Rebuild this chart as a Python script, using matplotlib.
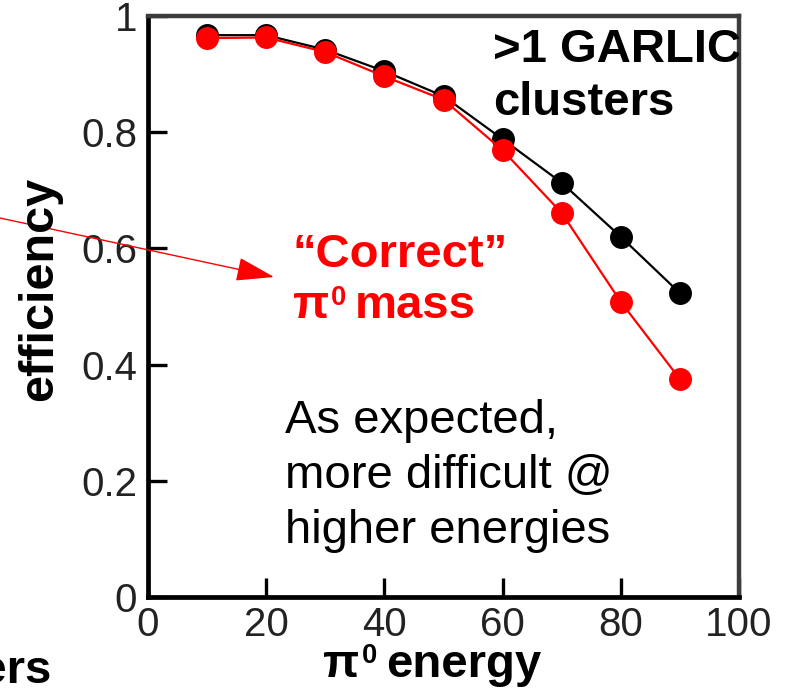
import matplotlib
matplotlib.use("Agg")
import matplotlib.pyplot as plt
from matplotlib.patches import FancyArrowPatch

# =========================
# DATA
# =========================

energy = [10, 20, 30, 40, 50, 60, 70, 80, 90]
eff_clusters = [0.967, 0.967, 0.942, 0.905, 0.862, 0.788, 0.713, 0.620, 0.523]
eff_mass = [0.962, 0.963, 0.938, 0.896, 0.856, 0.769, 0.661, 0.508, 0.375]

x_ticks = [0, 20, 40, 60, 80, 100]
y_ticks = [0, 0.2, 0.4, 0.6, 0.8, 1]
y_tick_labels = ["0", "0.2", "0.4", "0.6", "0.8", "1"]

# =========================
# STYLE
# =========================

plt.rcParams["font.family"] = ["Liberation Sans", "DejaVu Sans"]

W, H = 785, 693
fig = plt.figure(figsize=(W / 100, H / 100), dpi=100)


def fx(px):
    return px / W


def fy(py):
    return 1 - py / H


# axes box in pixels: x 148..739, y 16..597
ax = fig.add_axes([fx(148), fy(597), fx(739) - fx(148), fy(16) - fy(597)])

ax.plot(energy, eff_clusters, color="black", lw=1.6, marker="o",
        ms=15.5, mec="black", mfc="black", zorder=3)
ax.plot(energy, eff_mass, color="red", lw=1.6, marker="o",
        ms=15.5, mec="red", mfc="red", zorder=4)

ax.set_xlim(0, 100)
ax.set_ylim(0, 1)
ax.set_xticks(x_ticks)
ax.set_xticklabels([str(t) for t in x_ticks])
ax.set_yticks(y_ticks)
ax.set_yticklabels(y_tick_labels)

ax.tick_params(direction="in", length=14, width=2.4, colors="black",
               labelsize=29, labelcolor="#222222")
ax.tick_params(axis="x", pad=6.5)
ax.tick_params(axis="y", pad=8)

for side in ["left", "bottom"]:
    ax.spines[side].set_linewidth(3.4)
    ax.spines[side].set_color("black")
for side in ["top", "right"]:
    ax.spines[side].set_linewidth(3.2)
    ax.spines[side].set_color("#3c3c3c")

# =========================
# ANNOTATIONS
# =========================

# cluster label runs into the right frame and is clipped there
ax.text(fx(493), fy(62), ">1 GARLIC", transform=fig.transFigure,
        fontsize=34, fontweight="bold", va="baseline", ha="left",
        clip_on=True, zorder=5)
ax.text(fx(493), fy(115), "clusters", transform=fig.transFigure,
        fontsize=34, fontweight="bold", va="baseline", ha="left",
        clip_on=True, zorder=5)


def pi_zero(x, y_base, size, sup_dx, sup_dy, rest, rest_x, color="black"):
    # pi with a superscript zero, followed by the rest of the label
    fig.text(fx(x), fy(y_base), "\u03c0", color=color, fontsize=size,
             fontweight="bold", va="baseline", ha="left")
    fig.text(fx(x + sup_dx), fy(y_base - sup_dy), "0", color=color,
             fontsize=size * 0.58, fontweight="bold", va="baseline",
             ha="left")
    fig.text(fx(rest_x), fy(y_base), rest, color=color, fontsize=size,
             fontweight="bold", va="baseline", ha="left")


fig.text(fx(292), fy(267), "\u201cCorrect\u201d", color="red",
         fontsize=34, fontweight="bold", va="baseline", ha="left")
pi_zero(293, 318, 34, 38, 13, "mass", 355, color="red")

fig.text(fx(285), fy(433), "As expected,", fontsize=34,
         va="baseline", ha="left")
fig.text(fx(285), fy(488), "more difficult @", fontsize=34,
         va="baseline", ha="left")
fig.text(fx(285), fy(543), "higher energies", fontsize=34,
         va="baseline", ha="left")

fig.text(fx(40), fy(289), "efficiency", fontsize=35, fontweight="bold",
         rotation=90, va="center", ha="center")
pi_zero(323, 677, 34, 39, 14, "energy", 386)

# tail of a neighbouring label that runs off the left edge
fig.text(fx(52), fy(683), "clusters", fontsize=34, fontweight="bold",
         va="baseline", ha="right")

arrow = FancyArrowPatch((fx(0), fy(218)), (fx(274), fy(277)),
                        transform=fig.transFigure,
                        arrowstyle="-|>,head_length=2.4,head_width=0.75",
                        mutation_scale=10, color="red", lw=1.0,
                        shrinkA=0, shrinkB=0)
fig.patches.append(arrow)

fig.savefig("out.png", dpi=100)
